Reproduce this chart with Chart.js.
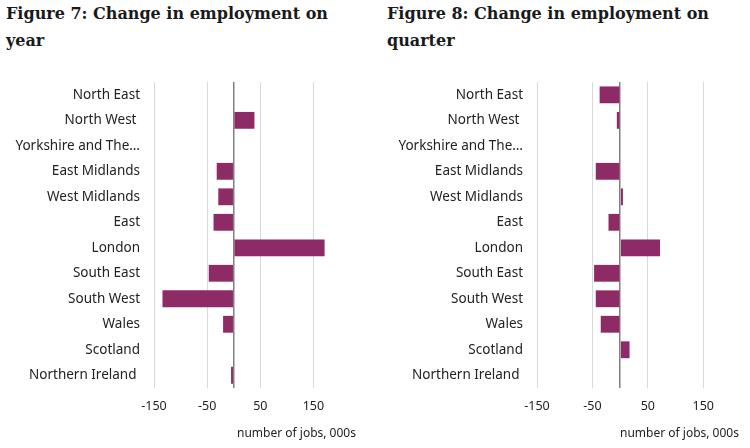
<!DOCTYPE html>
<html><head><meta charset="utf-8">
<script src="https://cdn.jsdelivr.net/npm/chart.js@4"></script>
<style>
html,body{margin:0;padding:0;background:#fff;width:750px;height:448px;overflow:hidden;}
.t{position:absolute;font-family:"DejaVu Serif",serif;font-weight:bold;font-size:16px;line-height:27px;color:#1a1a1a;}
.ax{position:absolute;font-family:"Noto Sans",sans-serif;font-size:12px;color:#222;}
.c{position:absolute;top:60px;width:375px;height:388px;}
</style></head><body>
<div class="t" style="left:6px;top:0px;">Figure 7: Change in employment on<br>year</div>
<div class="t" style="left:387px;top:0px;">Figure 8: Change in employment on<br>quarter</div>
<div class="c" style="left:0"><canvas id="c1" width="375" height="388"></canvas></div>
<div class="c" style="left:375px"><canvas id="c2" width="375" height="388"></canvas></div>
<div class="ax" style="left:237px;top:424px;">number of jobs, 000s</div>
<div class="ax" style="left:620px;top:424px;">number of jobs, 000s</div>
<script>
const categories = ["North East","North West ","Yorkshire and The…","East Midlands","West Midlands","East","London","South East","South West","Wales","Scotland","Northern Ireland "];
const yearChange = [0, 39, 0, -32, -29, -38, 171, -47, -134, -20, 0, -5];
const quarterChange = [-37, -6, 0, -44, 5, -21, 72, -47, -44, -35, 17, 0];
const tickValues = [-150, -50, 0, 50, 150];
const barColor = '#8E2A66';

function make(id, data, yWidth, padRight) {
  new Chart(document.getElementById(id), {
    type: 'bar',
    data: { labels: categories, datasets: [{ data: data, backgroundColor: barColor, borderWidth: 0, barPercentage: 0.66, categoryPercentage: 1 }] },
    options: {
      indexAxis: 'y', responsive: false, animation: false,
      layout: { padding: { top: 17, right: padRight, left: 0, bottom: 0 } },
      plugins: { legend: { display: false }, tooltip: { enabled: false } },
      scales: {
        x: {
          min: -150, max: 200,
          afterBuildTicks: s => { s.ticks = tickValues.map(v => ({ value: v })); },
          afterFit: s => { s.height = 60; },
          ticks: { padding: 11, color: '#222', font: { family: 'Noto Sans', size: 12.5 },
                   callback: v => v === 0 ? '' : String(v) },
          grid: { drawTicks: false, color: c => c.tick && c.tick.value === 0 ? '#808080' : '#d9d9d9',
                  lineWidth: c => c.tick && c.tick.value === 0 ? 1.5 : 1 },
          border: { display: false }
        },
        y: {
          afterFit: s => { s.width = yWidth; },
          ticks: { padding: 14, color: '#222', font: { family: 'Noto Sans', size: 13.5 }, autoSkip: false },
          grid: { display: false, drawTicks: false },
          border: { display: false }
        }
      }
    }
  });
}
make('c1', yearChange, 154, 35);
make('c2', quarterChange, 162, 19);
</script>
</body></html>
